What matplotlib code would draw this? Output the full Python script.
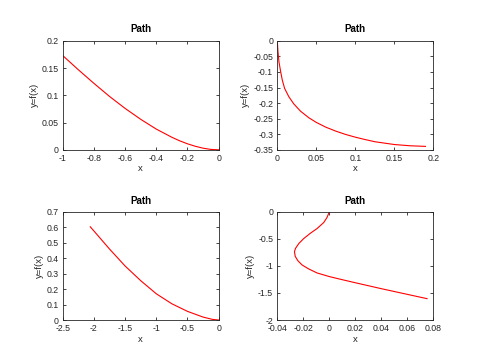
import numpy as np
import matplotlib
matplotlib.use("Agg")
import matplotlib.pyplot as plt

plt.rcParams["font.family"] = ["Liberation Sans", "DejaVu Sans"]

# =========================
# DATA
# =========================
x1 = [-1.0, -0.9, -0.8, -0.7, -0.6, -0.5, -0.4, -0.3, -0.25, -0.2, -0.15, -0.1, -0.05, 0.0]
y1 = [0.173, 0.147, 0.122, 0.098, 0.076, 0.056, 0.038, 0.023, 0.0165, 0.011, 0.0065,
      0.003, 0.0007, 0.0]

x2 = [0.0, 0.00085, 0.0021, 0.0043, 0.0064, 0.0094, 0.0149, 0.0213, 0.0298,
      0.0404, 0.05, 0.0625, 0.075, 0.0875, 0.10, 0.1125, 0.125, 0.15, 0.17, 0.19]
y2 = [0.0, -0.034, -0.067, -0.099, -0.126, -0.153, -0.180, -0.203, -0.226,
      -0.247, -0.262, -0.2776, -0.290, -0.3006, -0.3094, -0.317, -0.324, -0.333,
      -0.337, -0.339]

x3 = [-2.058, -2.0, -1.75, -1.5, -1.25, -1.0, -0.75, -0.5, -0.25, -0.1, 0.0]
y3 = [0.604, 0.577, 0.46, 0.35, 0.255, 0.17, 0.105, 0.056, 0.019, 0.004, 0.0]

x4 = [0.0, -0.0018, -0.0043, -0.0094, -0.0145, -0.0196, -0.0234, -0.026, -0.0268,
      -0.0262, -0.0242, -0.0209, -0.0158, -0.0094, 0.0, 0.01, 0.02, 0.04, 0.06, 0.0752]
y4 = [0.0, -0.104, -0.196, -0.307, -0.393, -0.491, -0.583, -0.675, -0.736,
      -0.822, -0.902, -0.982, -1.055, -1.129, -1.196, -1.254, -1.31, -1.42,
      -1.525, -1.605]

panels = [
    (x1, y1, (-1, 0), (0, 0.2), np.arange(-1, 0.01, 0.2), np.arange(0, 0.21, 0.05)),
    (x2, y2, (0, 0.2), (-0.35, 0), np.arange(0, 0.21, 0.05), np.arange(-0.35, 0.01, 0.05)),
    (x3, y3, (-2.5, 0), (0, 0.7), np.arange(-2.5, 0.01, 0.5), np.arange(0, 0.71, 0.1)),
    (x4, y4, (-0.04, 0.08), (-2, 0), np.arange(-0.04, 0.081, 0.02), np.arange(-2, 0.01, 0.5)),
]

positions = [
    [0.1306, 0.5827, 0.325, 0.3036],
    [0.5777, 0.5827, 0.325, 0.3036],
    [0.1306, 0.1086, 0.325, 0.3010],
    [0.5777, 0.1086, 0.325, 0.3010],
]


def fmt(v):
    s = "%g" % round(v, 6)
    return "0" if s in ("-0", "0") else s


fig = plt.figure(figsize=(4.8, 3.59), dpi=100)

for (xs, ys, xl, yl, xt, yt), pos in zip(panels, positions):
    ax = fig.add_axes(pos)
    ax.plot(xs, ys, color="red", linewidth=0.8)
    ax.set_xlim(*xl)
    ax.set_ylim(*yl)
    ax.set_xticks(xt)
    ax.set_yticks(yt)
    ax.set_xticklabels([fmt(v) for v in xt])
    ax.set_yticklabels([fmt(v) for v in yt])
    ax.tick_params(direction="in", length=2.5, width=0.6, labelsize=6.3,
                   colors="#262626", top=True, right=True, pad=3)
    for sp in ax.spines.values():
        sp.set_linewidth(0.6)
        sp.set_color("#262626")
    ax.set_title("Path", fontsize=7, fontweight="bold", pad=6)
    ax.set_xlabel("x", fontsize=6.8, color="#262626", labelpad=1)
    ax.set_ylabel("y=f(x)", fontsize=6.8, color="#262626", labelpad=2)

fig.savefig("out.png", dpi=100)
